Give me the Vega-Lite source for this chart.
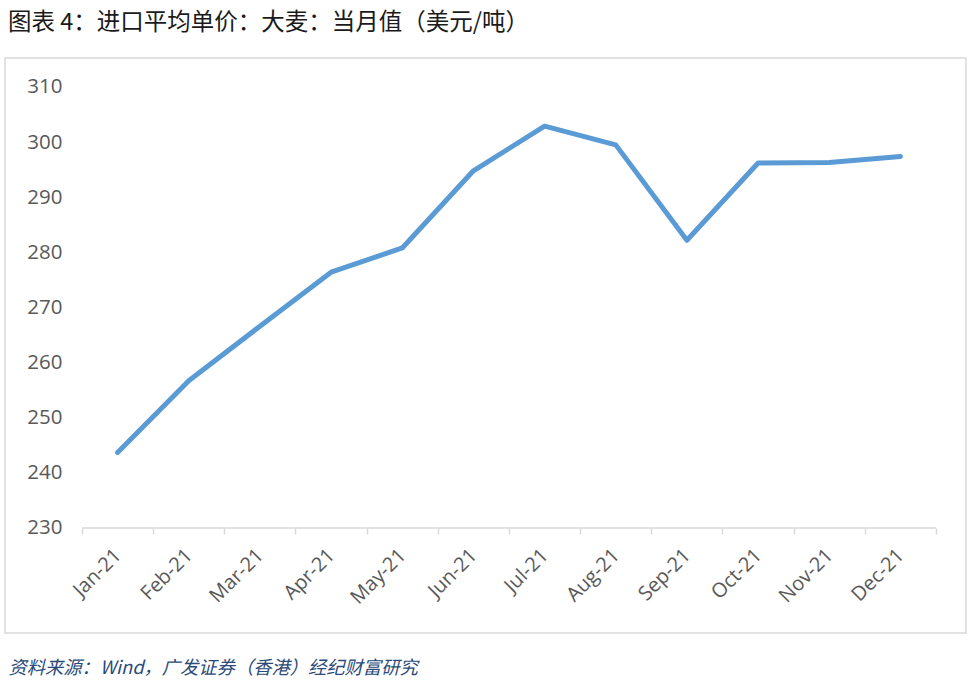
{
  "$schema": "https://vega.github.io/schema/vega-lite/v6.json",
  "autosize": {"type": "none"},
  "width": 961,
  "height": 575,
  "padding": {"left": 5, "top": 58, "right": 5, "bottom": 52},
  "background": "#ffffff",
  "config": {
    "view": {"stroke": "#d9d9d9", "strokeWidth": 1.5},
    "font": "Open Sans"
  },
  "title": {
    "text": "图表 4：进口平均单价：大麦：当月值（美元/吨）",
    "anchor": "start",
    "frame": "group",
    "orient": "top",
    "font": "Noto Sans CJK SC",
    "fontSize": 23.5,
    "fontWeight": "normal",
    "color": "#1a1a1a",
    "offset": 24,
    "dx": 3
  },
  "data": {
    "values": [
      {"month": "Jan-21", "price": 243.7},
      {"month": "Feb-21", "price": 256.7},
      {"month": "Mar-21", "price": 266.6},
      {"month": "Apr-21", "price": 276.4},
      {"month": "May-21", "price": 280.8},
      {"month": "Jun-21", "price": 294.8},
      {"month": "Jul-21", "price": 302.9},
      {"month": "Aug-21", "price": 299.5},
      {"month": "Sep-21", "price": 282.2},
      {"month": "Oct-21", "price": 296.2},
      {"month": "Nov-21", "price": 296.3},
      {"month": "Dec-21", "price": 297.4}
    ]
  },
  "encoding": {
    "x": {
      "field": "month",
      "type": "nominal",
      "sort": null,
      "scale": {"type": "band", "paddingInner": 0, "paddingOuter": 0.7518, "align": 0.7196},
      "axis": {
        "orient": "bottom",
        "offset": -105,
        "domain": false,
        "ticks": true,
        "tickBand": "extent",
        "tickColor": "#d9d9d9",
        "tickWidth": 1.5,
        "tickSize": 6,
        "labelAngle": -45,
        "labelAlign": "right",
        "labelBaseline": "middle",
        "labelPadding": 18,
        "labelFont": "Open Sans",
        "labelFontSize": 20,
        "labelColor": "#595959",
        "title": "资料来源：Wind，广发证券（香港）经纪财富研究",
        "titleFont": "Noto Sans CJK SC",
        "titleFontSize": 18.3,
        "titleFontStyle": "italic",
        "titleFontWeight": "normal",
        "titleColor": "#2a4a7a",
        "titleAnchor": null,
        "titleAlign": "left",
        "titleBaseline": "middle",
        "titleX": 3,
        "titleY": 140
      }
    }
  },
  "layer": [
    {
      "mark": {"type": "tick", "color": "#d9d9d9", "thickness": 1.5, "bandSize": 1, "opacity": 1},
      "encoding": {
        "y": {"datum": 230, "type": "quantitative"}
      }
    },
    {
      "mark": {"type": "line", "color": "#5b9bd5", "strokeWidth": 5, "strokeCap": "round", "strokeJoin": "round"},
      "encoding": {
        "x": {"field": "month", "type": "nominal", "sort": null, "bandPosition": 0.5},
        "y": {
          "field": "price",
          "type": "quantitative",
          "scale": {"domain": [210.95, 315.26], "nice": false, "zero": false},
          "axis": {
            "orient": "left",
            "offset": -59,
            "values": [230, 240, 250, 260, 270, 280, 290, 300, 310],
            "domain": false,
            "ticks": false,
            "grid": false,
            "labelPadding": 2,
            "labelFont": "Open Sans",
            "labelFontSize": 20.5,
            "labelColor": "#595959",
            "title": null
          }
        }
      }
    }
  ]
}
